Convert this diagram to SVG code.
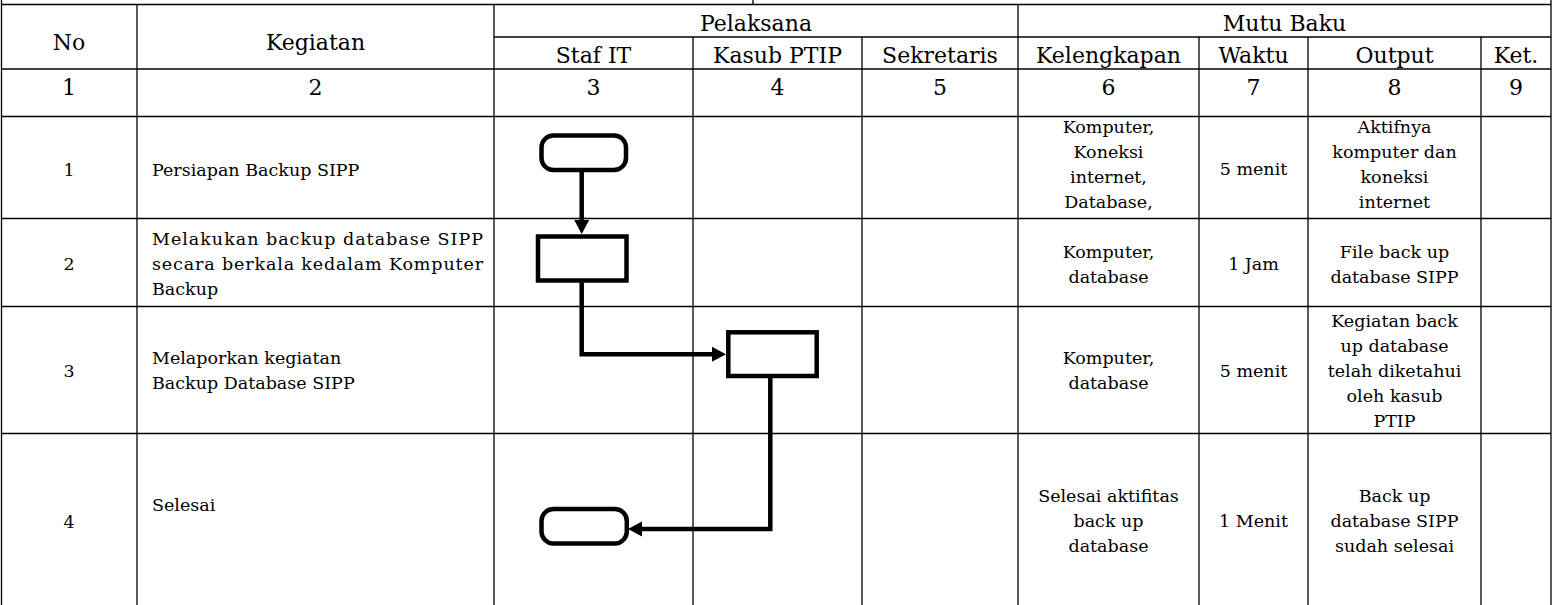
<svg xmlns="http://www.w3.org/2000/svg" width="1557" height="605" viewBox="0 0 1557 605">
  <style>
    .grid { stroke: #000; stroke-width: 1.3; fill: none; }
    .h { font-family: "DejaVu Serif", "Liberation Serif", serif; font-size: 22px; fill: #000; text-anchor: middle; }
    .b { font-family: "DejaVu Serif", "Liberation Serif", serif; font-size: 17.5px; fill: #000; }
    .c { text-anchor: middle; }
    .shape { fill: #fff; stroke: #000; stroke-width: 4.5; }
    .conn { fill: none; stroke: #000; stroke-width: 4.5; stroke-linejoin: miter; marker-end: url(#arrow); }
  </style>
  <defs>
    <marker id="arrow" markerUnits="userSpaceOnUse" markerWidth="16" markerHeight="16" refX="4" refY="7.5" orient="auto">
      <path d="M0,0 L14,7.5 L0,15 z" fill="#000"/>
    </marker>
  </defs>
  <rect width="1557" height="605" fill="#fff"/>

  <g id="table-grid" class="grid">
    <line x1="1.5" y1="0" x2="1.5" y2="605"/>
    <line x1="1551" y1="0" x2="1551" y2="605"/>
    <line x1="753" y1="0" x2="753" y2="4.5"/>
    <line x1="1.5" y1="4.5" x2="1551" y2="4.5"/>
    <line x1="494" y1="37" x2="1551" y2="37"/>
    <line x1="1.5" y1="69" x2="1551" y2="69"/>
    <line x1="1.5" y1="116.5" x2="1551" y2="116.5"/>
    <line x1="1.5" y1="218.5" x2="1551" y2="218.5"/>
    <line x1="1.5" y1="306.5" x2="1551" y2="306.5"/>
    <line x1="1.5" y1="433.5" x2="1551" y2="433.5"/>
    <line x1="137" y1="4.5" x2="137" y2="605"/>
    <line x1="494" y1="4.5" x2="494" y2="605"/>
    <line x1="693" y1="37" x2="693" y2="605"/>
    <line x1="862" y1="37" x2="862" y2="605"/>
    <line x1="1018" y1="4.5" x2="1018" y2="605"/>
    <line x1="1199" y1="37" x2="1199" y2="605"/>
    <line x1="1308" y1="37" x2="1308" y2="605"/>
    <line x1="1481" y1="37" x2="1481" y2="605"/>
  </g>

  <g id="header">
    <text class="h" x="69" y="50">No</text>
    <text class="h" x="315.5" y="50">Kegiatan</text>
    <text class="h" x="756" y="30.5">Pelaksana</text>
    <text class="h" x="1284.5" y="30.5">Mutu Baku</text>
    <text class="h" x="593.5" y="63">Staf IT</text>
    <text class="h" x="777.5" y="63">Kasub PTIP</text>
    <text class="h" x="940" y="63">Sekretaris</text>
    <text class="h" x="1108.5" y="63">Kelengkapan</text>
    <text class="h" x="1253.5" y="63">Waktu</text>
    <text class="h" x="1394.5" y="63">Output</text>
    <text class="h" x="1516" y="63">Ket.</text>
    <text class="h" x="69" y="95">1</text>
    <text class="h" x="315.5" y="95">2</text>
    <text class="h" x="593.5" y="95">3</text>
    <text class="h" x="777.5" y="95">4</text>
    <text class="h" x="940" y="95">5</text>
    <text class="h" x="1108.5" y="95">6</text>
    <text class="h" x="1253.5" y="95">7</text>
    <text class="h" x="1394.5" y="95">8</text>
    <text class="h" x="1516" y="95">9</text>
  </g>

  <g id="row1">
    <text class="b c" x="69" y="175.5">1</text>
    <text class="b" x="152" y="175.5">Persiapan Backup SIPP</text>
    <text class="b c" x="1108.5" y="132.5">Komputer,</text>
    <text class="b c" x="1108.5" y="157.5">Koneksi</text>
    <text class="b c" x="1108.5" y="182.5">internet,</text>
    <text class="b c" x="1108.5" y="207.5">Database,</text>
    <text class="b c" x="1253.5" y="175">5 menit</text>
    <text class="b c" x="1394.5" y="132.5">Aktifnya</text>
    <text class="b c" x="1394.5" y="157.5">komputer dan</text>
    <text class="b c" x="1394.5" y="182.5">koneksi</text>
    <text class="b c" x="1394.5" y="207.5">internet</text>
  </g>

  <g id="row2">
    <text class="b c" x="69" y="270">2</text>
    <text class="b" x="152" y="245" textLength="331" lengthAdjust="spacing">Melakukan backup database SIPP</text>
    <text class="b" x="152" y="270" textLength="331" lengthAdjust="spacing">secara berkala kedalam Komputer</text>
    <text class="b" x="152" y="295">Backup</text>
    <text class="b c" x="1108.5" y="258">Komputer,</text>
    <text class="b c" x="1108.5" y="283">database</text>
    <text class="b c" x="1253.5" y="270">1 Jam</text>
    <text class="b c" x="1394.5" y="258">File back up</text>
    <text class="b c" x="1394.5" y="283">database SIPP</text>
  </g>

  <g id="row3">
    <text class="b c" x="69" y="376.5">3</text>
    <text class="b" x="152" y="363.5">Melaporkan kegiatan</text>
    <text class="b" x="152" y="389">Backup Database SIPP</text>
    <text class="b c" x="1108.5" y="364">Komputer,</text>
    <text class="b c" x="1108.5" y="389">database</text>
    <text class="b c" x="1253.5" y="377">5 menit</text>
    <text class="b c" x="1394.5" y="326.5">Kegiatan back</text>
    <text class="b c" x="1394.5" y="351.5">up database</text>
    <text class="b c" x="1394.5" y="376.5">telah diketahui</text>
    <text class="b c" x="1394.5" y="401.5">oleh kasub</text>
    <text class="b c" x="1394.5" y="426.5">PTIP</text>
  </g>

  <g id="row4">
    <text class="b c" x="69" y="528">4</text>
    <text class="b" x="152" y="511">Selesai</text>
    <text class="b c" x="1108.5" y="501.5">Selesai aktifitas</text>
    <text class="b c" x="1108.5" y="526.5">back up</text>
    <text class="b c" x="1108.5" y="551.5">database</text>
    <text class="b c" x="1253.5" y="526.5">1 Menit</text>
    <text class="b c" x="1394.5" y="501.5">Back up</text>
    <text class="b c" x="1394.5" y="526.5">database SIPP</text>
    <text class="b c" x="1394.5" y="551.5">sudah selesai</text>
  </g>

  <g id="connectors">
    <path class="conn" d="M581.7,172 V224"/>
    <path class="conn" d="M581.7,282.5 V354.3 H716"/>
    <path class="conn" d="M770.3,378 V529 H638"/>
  </g>

  <g id="node-start">
    <rect class="shape" x="541.5" y="135.5" width="84.5" height="34.5" rx="12" ry="12"/>
  </g>
  <g id="node-backup">
    <rect class="shape" x="538" y="236.5" width="88.5" height="44"/>
  </g>
  <g id="node-report">
    <rect class="shape" x="728.3" y="332.3" width="88.4" height="43.7"/>
  </g>
  <g id="node-end">
    <rect class="shape" x="541.5" y="509" width="85.3" height="34.5" rx="12" ry="12"/>
  </g>
</svg>
